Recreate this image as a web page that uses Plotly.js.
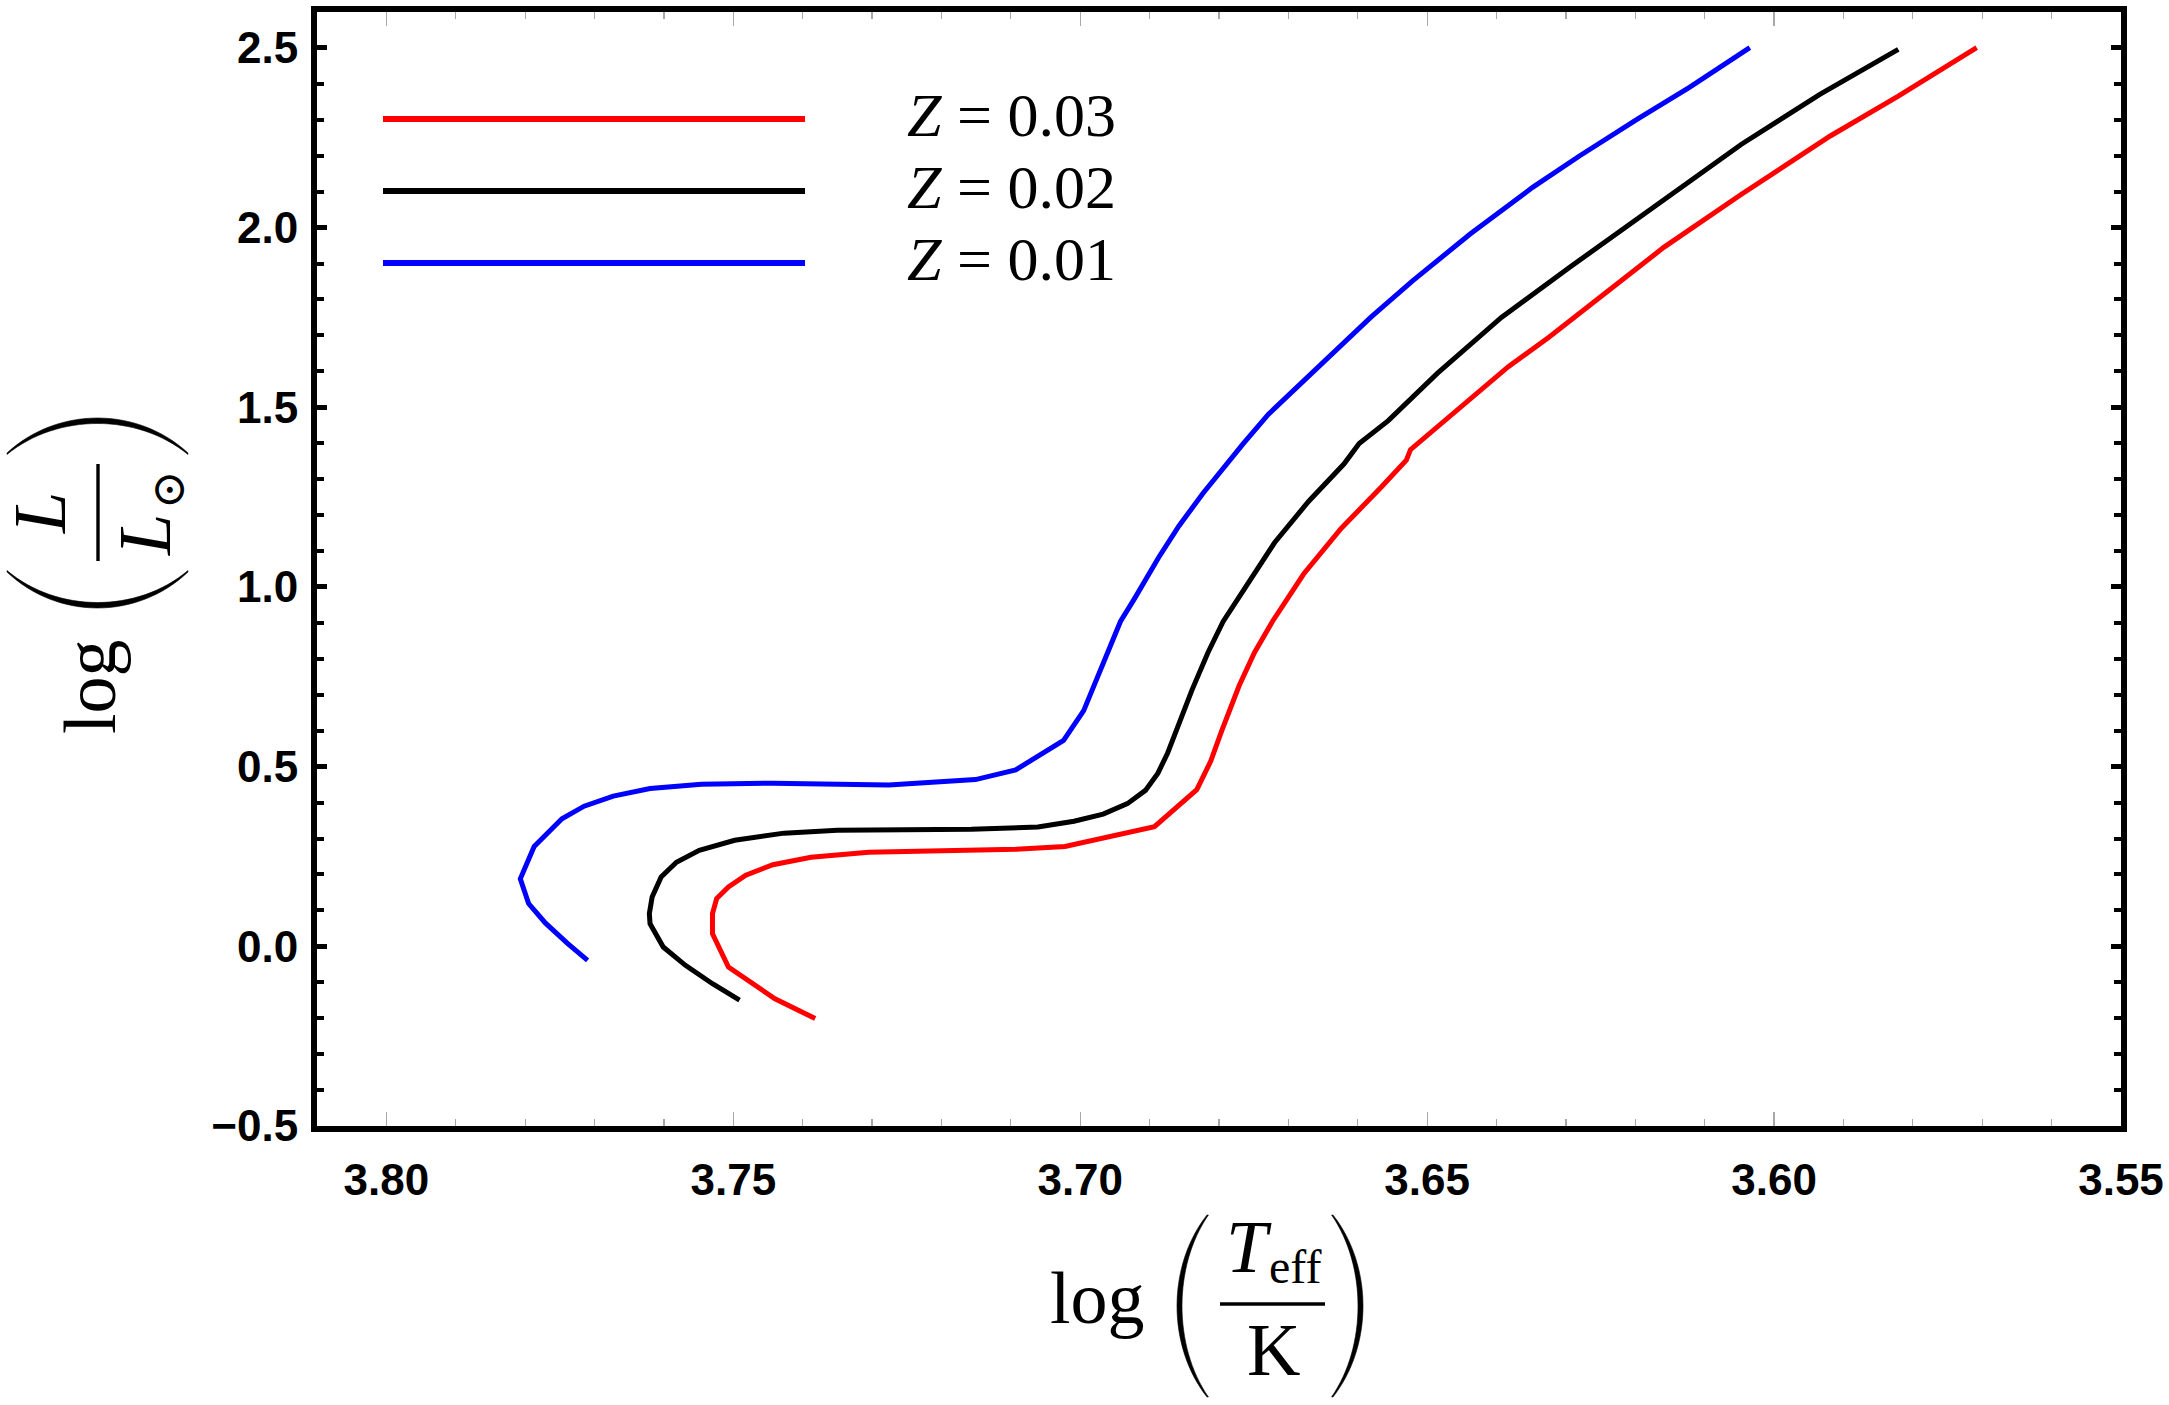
<!DOCTYPE html>
<html>
<head>
<meta charset="utf-8">
<script src="https://cdn.plot.ly/plotly-3.0.1.min.js"></script>
<style>
  html, body { margin: 0; padding: 0; background: #ffffff; }
  #plot { width: 2169px; height: 1405px; }
</style>
</head>
<body>
<div id="plot"></div>
<script>
// Evolutionary tracks in the HR diagram for three metallicities
const metallicities = [0.03, 0.02, 0.01];
const trackColors = ['#ff0000', '#000000', '#0000ff'];

// Z = 0.03
const logTeffZ003 = [3.7382, 3.7440, 3.7507, 3.7530, 3.7530, 3.7524, 3.7507, 3.7482, 3.7443, 3.7388,
  3.7305, 3.7093, 3.7022, 3.6893, 3.6832, 3.6812, 3.6796, 3.6771, 3.6749, 3.6723,
  3.6678, 3.6624, 3.6566, 3.6530, 3.6524, 3.6460, 3.6383, 3.6325, 3.6264, 3.6159,
  3.6047, 3.5919, 3.5821, 3.5708];
const logLZ003 = [-0.201, -0.146, -0.058, 0.035, 0.091, 0.133, 0.165, 0.198, 0.227, 0.248,
  0.262, 0.270, 0.278, 0.333, 0.436, 0.515, 0.600, 0.725, 0.817, 0.904,
  1.036, 1.163, 1.278, 1.353, 1.382, 1.486, 1.613, 1.694, 1.787, 1.945,
  2.093, 2.255, 2.366, 2.501];

// Z = 0.02
const logTeffZ002 = [3.7491, 3.7530, 3.7569, 3.7601, 3.7620, 3.7621, 3.7617, 3.7604, 3.7582, 3.7549,
  3.7498, 3.7427, 3.7350, 3.7253, 3.7157, 3.7061, 3.7009, 3.6967, 3.6932, 3.6906,
  3.6888, 3.6874, 3.6860, 3.6839, 3.6816, 3.6794, 3.6765, 3.6720, 3.6671, 3.6620,
  3.6598, 3.6556, 3.6485, 3.6434, 3.6393, 3.6295, 3.6189, 3.6047, 3.5934, 3.5821];
const logLZ002 = [-0.150, -0.104, -0.053, -0.002, 0.063, 0.091, 0.137, 0.193, 0.234, 0.267,
  0.295, 0.315, 0.323, 0.325, 0.326, 0.332, 0.348, 0.368, 0.397, 0.434,
  0.482, 0.538, 0.610, 0.713, 0.817, 0.904, 0.990, 1.123, 1.238, 1.342,
  1.399, 1.463, 1.595, 1.682, 1.750, 1.889, 2.037, 2.232, 2.371, 2.496];

// Z = 0.01
const logTeffZ001 = [3.7710, 3.7739, 3.7771, 3.7795, 3.7807, 3.7787, 3.7747, 3.7715, 3.7673, 3.7620,
  3.7546, 3.7443, 3.7276, 3.7151, 3.7093, 3.7024, 3.6995, 3.6980, 3.6961, 3.6942,
  3.6922, 3.6887, 3.6858, 3.6823, 3.6765, 3.6729, 3.6710, 3.6614, 3.6581, 3.6521,
  3.6438, 3.6348, 3.6280, 3.6197, 3.6122, 3.6035];
const logLZ001 = [-0.039, 0.008, 0.065, 0.119, 0.188, 0.278, 0.355, 0.390, 0.418, 0.439,
  0.451, 0.454, 0.449, 0.464, 0.491, 0.573, 0.656, 0.725, 0.817, 0.904,
  0.967, 1.082, 1.169, 1.261, 1.399, 1.480, 1.515, 1.688, 1.751, 1.852,
  1.982, 2.112, 2.200, 2.302, 2.390, 2.501];

const tracksX = [logTeffZ003, logTeffZ002, logTeffZ001];
const tracksY = [logLZ003, logLZ002, logLZ001];

// Tick settings
const xTickStep = 0.05, xMinorStep = 0.01;
const yTickStep = 0.5, yMinorStep = 0.1;
const xRange = [3.81, 3.55];
const yRange = [-0.5, 2.6];

// ---- page geometry (pixels) ----
const W = 2169, H = 1405;
const PL = 317, PR = 2121, PT = 12, PB = 1126;
const toPX = X => (X - PL) / (PR - PL);
const toPY = Y => (PB - Y) / (PB - PT);

const traces = tracksX.map((xs, i) => ({
  type: 'scatter',
  mode: 'lines',
  x: xs,
  y: tracksY[i],
  name: 'Z = ' + metallicities[i].toFixed(2),
  line: { color: trackColors[i], width: 5 },
  showlegend: false,
  hoverinfo: 'skip'
}));

const SERIF = 'Liberation Serif, Times New Roman, serif';
const annotations = [];
const shapes = [];

function textAt(text, X, Y, size, angle, family) {
  annotations.push({
    text: text, showarrow: false,
    xref: 'paper', yref: 'paper',
    x: toPX(X), y: toPY(Y),
    xanchor: 'center', yanchor: 'middle',
    textangle: angle || 0,
    borderpad: 0,
    font: { family: family || SERIF, size: size, color: '#000000' }
  });
}

// A tall TeX-like parenthesis drawn as a filled crescent in local (u, v) coordinates
function paren(map, ue, um, va, vb, thick) {
  const sg = Math.sign(ue - um);
  const h = vb - va;
  const ucOut = (um - 0.25 * ue) / 0.75;
  const ue2 = ue + sg * 1.4;
  const um2 = um + sg * thick;
  const ucIn = (um2 - 0.25 * ue2) / 0.75;
  const P = (u, v) => { const s = map(u, v); return toPX(s[0]).toFixed(5) + ',' + toPY(s[1]).toFixed(5); };
  const d = 'M' + P(ue, va) +
    ' C' + P(ucOut, va + 0.28 * h) + ' ' + P(ucOut, vb - 0.28 * h) + ' ' + P(ue, vb) +
    ' L' + P(ue2, vb) +
    ' C' + P(ucIn, vb - 0.28 * h) + ' ' + P(ucIn, va + 0.28 * h) + ' ' + P(ue2, va) + ' Z';
  shapes.push({ type: 'path', xref: 'paper', yref: 'paper', path: d,
    fillcolor: '#000000', line: { width: 0.6, color: '#000000' } });
}

function bar(map, u0, u1, v) {
  const a = map(u0, v), b = map(u1, v);
  shapes.push({ type: 'line', xref: 'paper', yref: 'paper',
    x0: toPX(a[0]), y0: toPY(a[1]), x1: toPX(b[0]), y1: toPY(b[1]),
    line: { color: '#000000', width: 3.4 } });
}

// ---- x-axis title: log(T_eff / K) ----
const xMap = (u, v) => [1272 + u, 1304 + v];
(function () {
  const m = xMap;
  let p;
  p = m(-175, -6);  textAt('log', p[0], p[1], 74, 0);
  p = m(-23, -57);  textAt('<i>T</i>', p[0], p[1], 74, 0);
  p = m(23, -38);   textAt('eff', p[0], p[1], 48, 0);
  p = m(1.5, 46);   textAt('K', p[0], p[1], 74, 0);
  bar(m, -52, 53, 0);
  paren(m, -65, -95, -89, 93, 5);
  paren(m, 61, 91, -89, 93, 5);
})();

// ---- y-axis title: log(L / L_sun), rotated ----
const yMap = (u, v) => [98 + v, 513 - u];
(function () {
  const m = yMap;
  let p;
  p = m(-174, -8);  textAt('log', p[0], p[1], 74, -90);
  p = m(0, -58);    textAt('<i>L</i>', p[0], p[1], 74, -90);
  p = m(-22, 47);   textAt('<i>L</i>', p[0], p[1], 74, -90);
  p = m(23.5, 69.5); textAt('\u2299', p[0], p[1], 46, -90, 'DejaVu Serif, serif');
  bar(m, -48, 49, 0);
  paren(m, -59, -95, -91, 90, 5.5);
  paren(m, 60, 95, -91, 90, 5.5);
})();

// ---- key: long coloured strokes with their metallicity ----
const keyRowsY = [119, 191, 263];
metallicities.forEach((z, i) => {
  shapes.push({ type: 'line', xref: 'paper', yref: 'paper',
    x0: toPX(383), x1: toPX(805), y0: toPY(keyRowsY[i]), y1: toPY(keyRowsY[i]),
    line: { color: trackColors[i], width: 6 } });
  textAt('<i>Z</i> = ' + z.toFixed(2), 1011, keyRowsY[i] - 4, 62, 0);
});

const tickFont = { family: 'Liberation Sans, Arial, sans-serif', size: 44, color: '#000000', weight: 'bold' };

const layout = {
  width: W, height: H,
  margin: { l: PL, r: W - PR, t: PT, b: H - PB, pad: 0 },
  paper_bgcolor: '#ffffff',
  plot_bgcolor: '#ffffff',
  showlegend: false,
  xaxis: {
    range: xRange,
    autorange: false,
    automargin: false,
    showgrid: false, zeroline: false,
    showline: true, linecolor: '#000000', linewidth: 6, mirror: 'allticks',
    ticks: 'inside', ticklen: 14, tickwidth: 1.2, tickcolor: '#a8a8a8',
    tick0: 3.55, dtick: xTickStep, tickformat: '.2f',
    tickfont: tickFont,
    ticklabelstandoff: 10,
    minor: { ticks: 'inside', ticklen: 7, tickwidth: 1.2, tickcolor: '#a8a8a8', dtick: xMinorStep, showgrid: false }
  },
  yaxis: {
    range: yRange,
    autorange: false,
    automargin: false,
    showgrid: false, zeroline: false,
    showline: true, linecolor: '#000000', linewidth: 6, mirror: 'allticks',
    ticks: 'inside', ticklen: 10, tickwidth: 5, tickcolor: '#000000',
    tick0: 0, dtick: yTickStep, tickformat: '.1f',
    tickfont: tickFont,
    ticklabelstandoff: 4,
    minor: { ticks: 'inside', ticklen: 7, tickwidth: 4, tickcolor: '#000000', dtick: yMinorStep, showgrid: false }
  },
  annotations: annotations,
  shapes: shapes
};

Plotly.newPlot('plot', traces, layout, { displayModeBar: false, staticPlot: true });
</script>
</body>
</html>
